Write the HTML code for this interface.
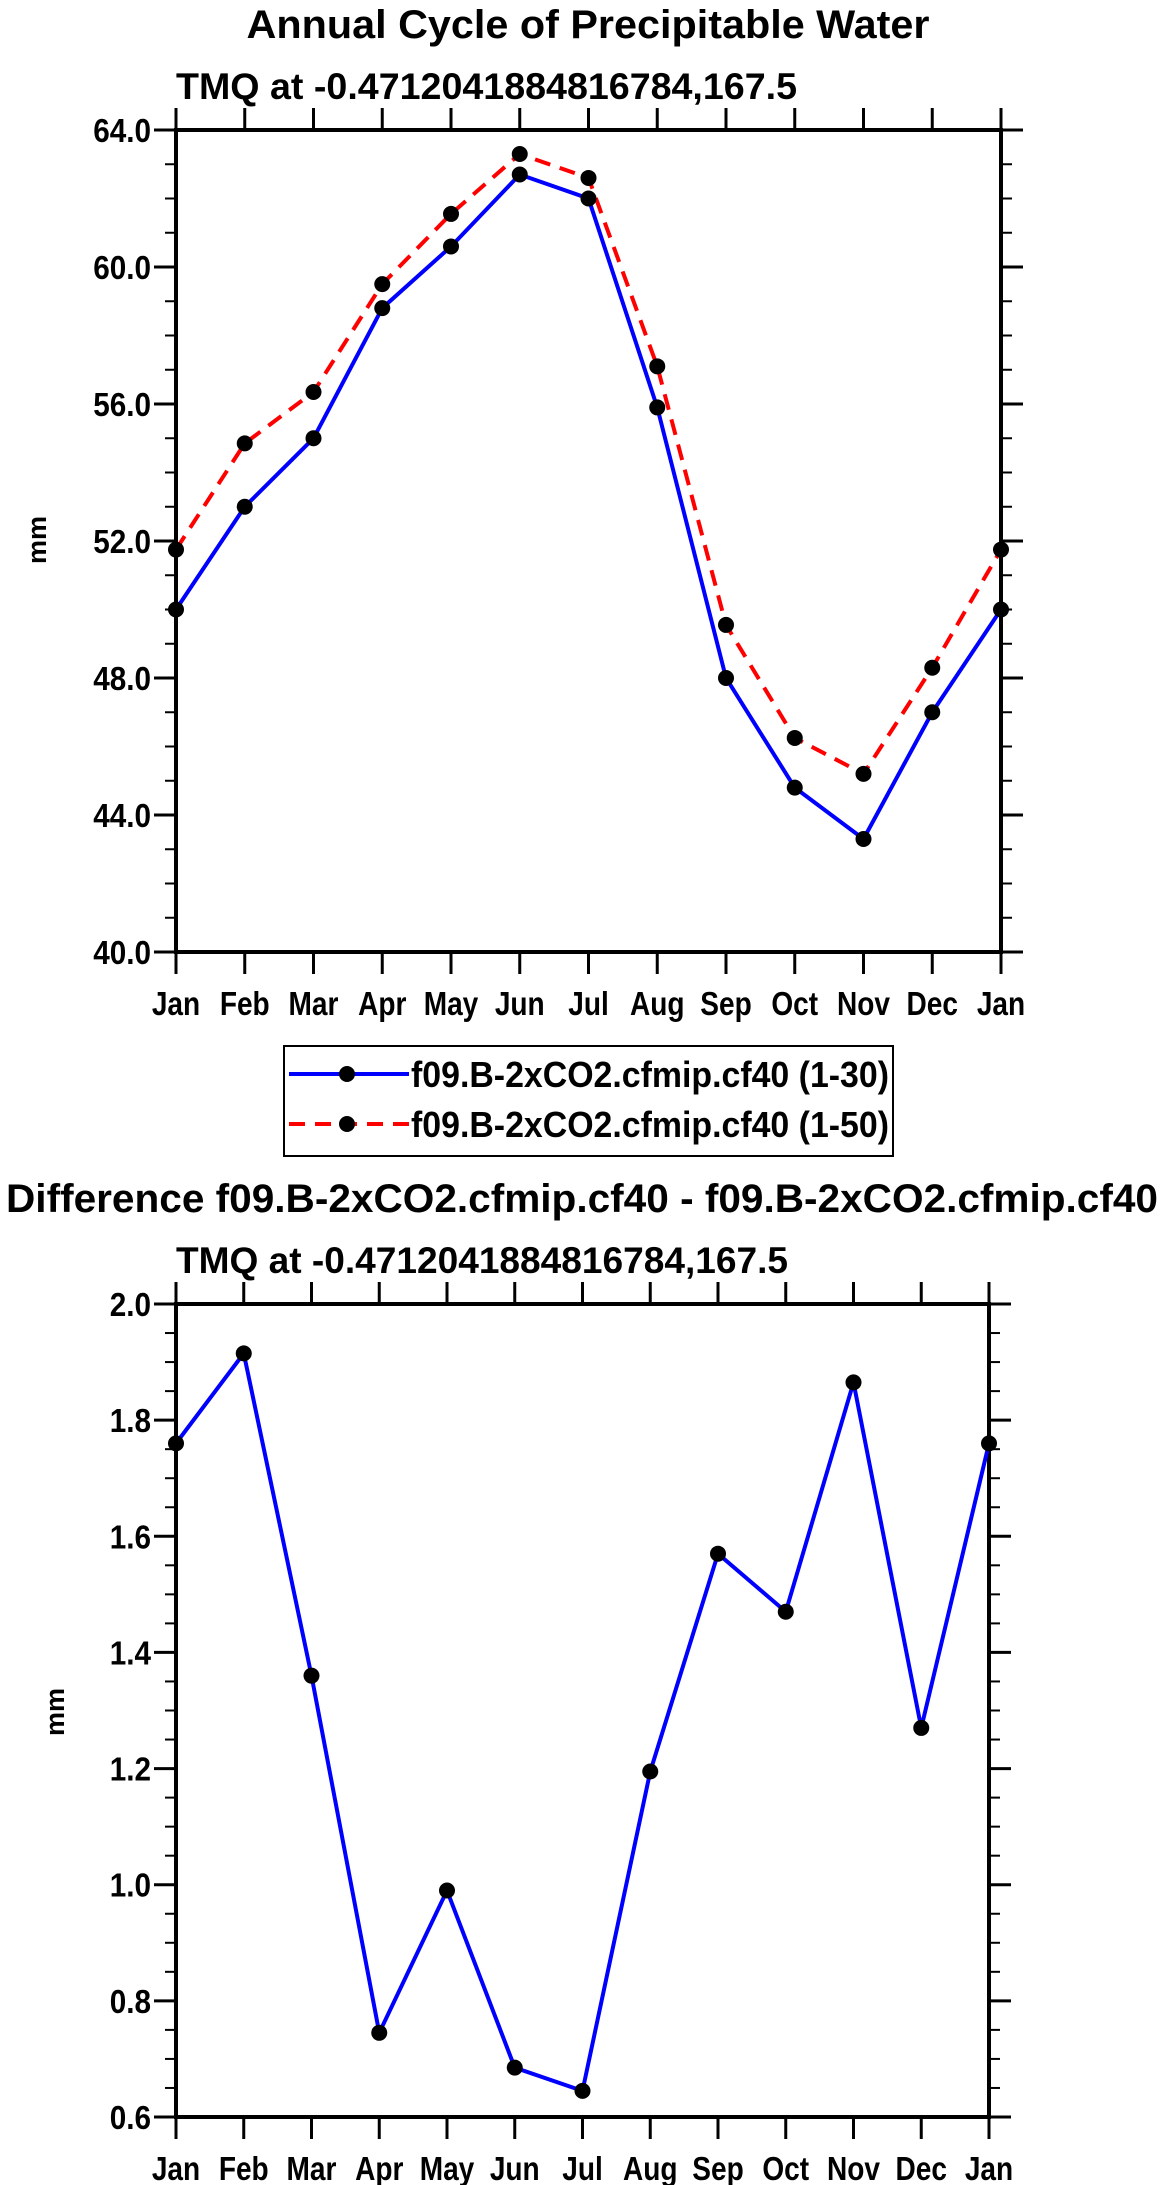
<!DOCTYPE html>
<html><head><meta charset="utf-8"><style>
html,body{margin:0;padding:0;background:#fff}
svg{display:block;font-family:"Liberation Sans",Arial,sans-serif;font-weight:bold}
</style></head><body>
<svg id="svg" width="1161" height="2185" viewBox="0 0 1161 2185" xmlns="http://www.w3.org/2000/svg">
<text x="588" y="38" font-size="40" text-anchor="middle" textLength="683" lengthAdjust="spacingAndGlyphs">Annual Cycle of Precipitable Water</text>
<text x="176" y="99" font-size="37" textLength="621" lengthAdjust="spacingAndGlyphs">TMQ at -0.4712041884816784,167.5</text>
<text transform="translate(46,540) rotate(-90)" font-size="27" text-anchor="middle" textLength="48" lengthAdjust="spacingAndGlyphs">mm</text>
<g id="plot1"></g>
<g>
<rect x="284" y="1046" width="609" height="110" fill="none" stroke="#000" stroke-width="2"/>
<g>
<line x1="289" y1="1074" x2="409" y2="1074" stroke="#00f" stroke-width="4"/>
<circle cx="347" cy="1074" r="8"/>
<text x="411" y="1087" font-size="36" textLength="478" lengthAdjust="spacingAndGlyphs">f09.B-2xCO2.cfmip.cf40 (1-30)</text>
</g>
<g>
<line x1="289" y1="1124" x2="409" y2="1124" stroke="#f00" stroke-width="4" stroke-dasharray="16,10"/>
<circle cx="347" cy="1124" r="8"/>
<text x="411" y="1137" font-size="36" textLength="478" lengthAdjust="spacingAndGlyphs">f09.B-2xCO2.cfmip.cf40 (1-50)</text>
</g>
</g>
<text x="582" y="1212" font-size="40" text-anchor="middle" textLength="1152" lengthAdjust="spacingAndGlyphs">Difference f09.B-2xCO2.cfmip.cf40 - f09.B-2xCO2.cfmip.cf40</text>
<text x="176" y="1273" font-size="37" textLength="612" lengthAdjust="spacingAndGlyphs">TMQ at -0.4712041884816784,167.5</text>
<text transform="translate(64,1712) rotate(-90)" font-size="27" text-anchor="middle" textLength="48" lengthAdjust="spacingAndGlyphs">mm</text>
<g id="plot2"></g>
</svg>
<script>
const months = ["Jan","Feb","Mar","Apr","May","Jun","Jul","Aug","Sep","Oct","Nov","Dec","Jan"];
const series130 = [50.0,53.0,55.0,58.8,60.6,62.7,62.0,55.9,48.0,44.8,43.3,47.0,50.0];
const series150 = [51.75,54.85,56.35,59.5,61.55,63.3,62.6,57.1,49.55,46.25,45.2,48.3,51.75];
const diffValues = [1.76,1.915,1.36,0.745,0.99,0.685,0.645,1.195,1.57,1.47,1.865,1.27,1.76];
const topTicks = [40,44,48,52,56,60,64];
const topTickLabels = ["40.0","44.0","48.0","52.0","56.0","60.0","64.0"];
const bottomTicks = [0.6,0.8,1.0,1.2,1.4,1.6,1.8,2.0];
const bottomTickLabels = ["0.6","0.8","1.0","1.2","1.4","1.6","1.8","2.0"];

const NS = "http://www.w3.org/2000/svg";
function mk(tag, attrs, parent){const e=document.createElementNS(NS,tag);for(const k in attrs)e.setAttribute(k,attrs[k]);parent.appendChild(e);return e;}
function condense(t,f){const w=t.getComputedTextLength();t.setAttribute("textLength",w*f);t.setAttribute("lengthAdjust","spacingAndGlyphs");}

function drawPlot(g, box, ymin, ymax, ticks, tickLabels, minorStep, seriesList, prefix){
  const xs = i => box.x0 + (box.x1-box.x0)*i/(months.length-1);
  const ys = v => box.y1 - (box.y1-box.y0)*(v-ymin)/(ymax-ymin);
  const MJ=22, MN=11;
  const nMinor = Math.round((ymax-ymin)/minorStep);
  for(let k=0;k<=nMinor;k++){
    const y=ys(ymin+k*minorStep);
    mk("line",{x1:box.x0-MN,y1:y,x2:box.x0,y2:y,stroke:"#000","stroke-width":2},g);
    mk("line",{x1:box.x1,y1:y,x2:box.x1+MN,y2:y,stroke:"#000","stroke-width":2},g);
  }
  ticks.forEach((t,i)=>{
    const y=ys(t);
    const tk=mk("line",{x1:box.x0-MJ,y1:y,x2:box.x0,y2:y,stroke:"#000","stroke-width":3},g);
    
    
    mk("line",{x1:box.x1,y1:y,x2:box.x1+MJ,y2:y,stroke:"#000","stroke-width":3},g);
    const lb=mk("text",{x:box.x0-25,y:y+12,"font-size":33,"text-anchor":"end"},g);
    lb.textContent=tickLabels[i];
    
    
    condense(lb,0.9);
  });
  months.forEach((m,i)=>{
    const x=xs(i);
    mk("line",{x1:x,y1:box.y1,x2:x,y2:box.y1+MJ,stroke:"#000","stroke-width":3},g);
    mk("line",{x1:x,y1:box.y0-MJ,x2:x,y2:box.y0,stroke:"#000","stroke-width":3},g);
    const lb=mk("text",{x:x,y:box.y1+63,"font-size":33,"text-anchor":"middle"},g);
    lb.textContent=m;
    
    
    condense(lb,0.85);
  });
  const fr=mk("rect",{x:box.x0,y:box.y0,width:box.x1-box.x0,height:box.y1-box.y0,fill:"none",stroke:"#000","stroke-width":4},g);
  
  
  seriesList.forEach(s=>{
    const pts=s.values.map((v,i)=>xs(i)+","+ys(v)).join(" ");
    const pl=mk("polyline",{points:pts,fill:"none",stroke:s.color,"stroke-width":4,"stroke-dasharray":s.dash||"none"},g);
    
    
    s.values.forEach((v,i)=>{
      const c=mk("circle",{cx:xs(i),cy:ys(v),r:8,fill:"#000"},g);
      
      
    });
  });
}
drawPlot(document.getElementById("plot1"),{x0:176,x1:1001,y0:130,y1:952},40,64,topTicks,topTickLabels,1,
  [{values:series150,color:"#f00",dash:"16,10",name:"series-1-50-line"},{values:series130,color:"#00f",name:"series-1-30-line"}],"top");
drawPlot(document.getElementById("plot2"),{x0:176,x1:989,y0:1304,y1:2117},0.6,2.0,bottomTicks,bottomTickLabels,0.05,
  [{values:diffValues,color:"#00f",name:"difference-line"}],"bottom");
</script>
</body></html>
